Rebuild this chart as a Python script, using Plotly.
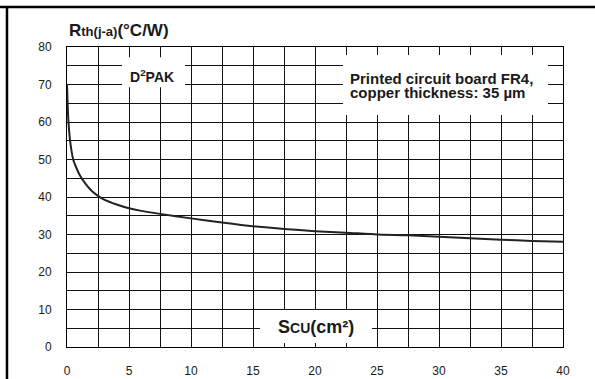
import plotly.graph_objects as go

# Thermal resistance junction-ambient vs copper area (D2PAK on FR4, 35 um Cu)
scu_cm2 = [0, 0.05, 0.1, 0.25, 0.5, 0.75, 1, 1.5, 2, 2.5, 3, 4, 5, 6, 7.5,
           10, 12.5, 15, 17.5, 20, 22.5, 25, 27.5, 30, 32.5, 35, 37.5, 40]
rth_ja = [70, 65, 61, 55, 50, 47.8, 46, 43.5, 41.6, 40.3, 39.3, 38.0, 37.0,
          36.3, 35.5, 34.3, 33.2, 32.2, 31.5, 30.9, 30.5, 30.0, 29.8, 29.4,
          29.0, 28.6, 28.3, 28.1]

x_ticks = [0, 5, 10, 15, 20, 25, 30, 35, 40]
y_ticks = [0, 10, 20, 30, 40, 50, 60, 70, 80]

FONT = "Liberation Sans"
INK = "#1a1a1a"
GRID = "#111111"

fig = go.Figure()
fig.add_trace(go.Scatter(
    x=scu_cm2, y=rth_ja, mode="lines",
    line=dict(color="#222222", width=2, shape="spline", smoothing=0.6),
    hoverinfo="skip", showlegend=False,
))

axis_common = dict(
    showline=True, mirror=True, linecolor="#000000", linewidth=1,
    showgrid=True, gridcolor=GRID, gridwidth=1,
    zeroline=False, ticks="", automargin=False,
    tickfont=dict(family=FONT, size=12, color=INK),
)

fig.update_layout(
    width=595, height=379,
    margin=dict(l=67, r=32, t=47, b=32),
    paper_bgcolor="white", plot_bgcolor="white",
    xaxis=dict(range=[0, 40], tickvals=x_ticks, ticklabelstandoff=13,
               minor=dict(dtick=2.5, showgrid=True, gridcolor=GRID,
                          gridwidth=1, ticks=""),
               **axis_common),
    yaxis=dict(range=[0, 80], tickvals=y_ticks, ticklabelstandoff=12,
               minor=dict(dtick=5, showgrid=True, gridcolor=GRID,
                          gridwidth=1, ticks=""),
               **axis_common),
)

# white panels that interrupt the grid behind the labels
panels = [
    (4.44, 9.52, 69.3, 77.3),
    (22.26, 38.79, 61.9, 77.9),
    (15.56, 24.6, 1.07, 9.87),
]
for x0, x1, y0, y1 in panels:
    fig.add_shape(type="rect", xref="x", yref="y", x0=x0, x1=x1, y0=y0, y1=y1,
                  fillcolor="white", line=dict(width=0), layer="between")

# outer frame lines (top and left)
fig.add_shape(type="line", xref="paper", yref="paper",
              x0=-0.136, x1=1.066, y0=1.1333, y1=1.1333,
              line=dict(color="black", width=2.5))
fig.add_shape(type="line", xref="paper", yref="paper",
              x0=-0.121, x1=-0.121, y0=1.1333, y1=-0.11,
              line=dict(color="black", width=2.5))

bold = dict(family=FONT, color=INK)

fig.add_annotation(
    xref="paper", yref="paper", x=0.0, y=1.055, xanchor="left", yanchor="middle",
    text='<b>R<span style="font-size:13px">th(j-a)</span>(°C/W)</b>',
    showarrow=False, font=dict(size=17, **bold),
)
fig.add_annotation(
    x=6.85, y=72.4, xanchor="center", yanchor="middle",
    text="<b>D<sup>2</sup>PAK</b>", showarrow=False, font=dict(size=14, **bold),
)
fig.add_annotation(
    x=22.66, y=71.6, xanchor="left", yanchor="middle",
    text="<b>Printed circuit board FR4,</b>", showarrow=False,
    font=dict(size=15, **bold),
)
fig.add_annotation(
    x=22.66, y=68.0, xanchor="left", yanchor="middle",
    text="<b>copper thickness: 35 µm</b>", showarrow=False,
    font=dict(size=15, **bold),
)
fig.add_annotation(
    x=20.05, y=5.3, xanchor="center", yanchor="middle",
    text='<b>S<span style="font-size:14px">CU</span>(cm²)</b>',
    showarrow=False, font=dict(size=18, **bold),
)

fig.write_html("out.html")
